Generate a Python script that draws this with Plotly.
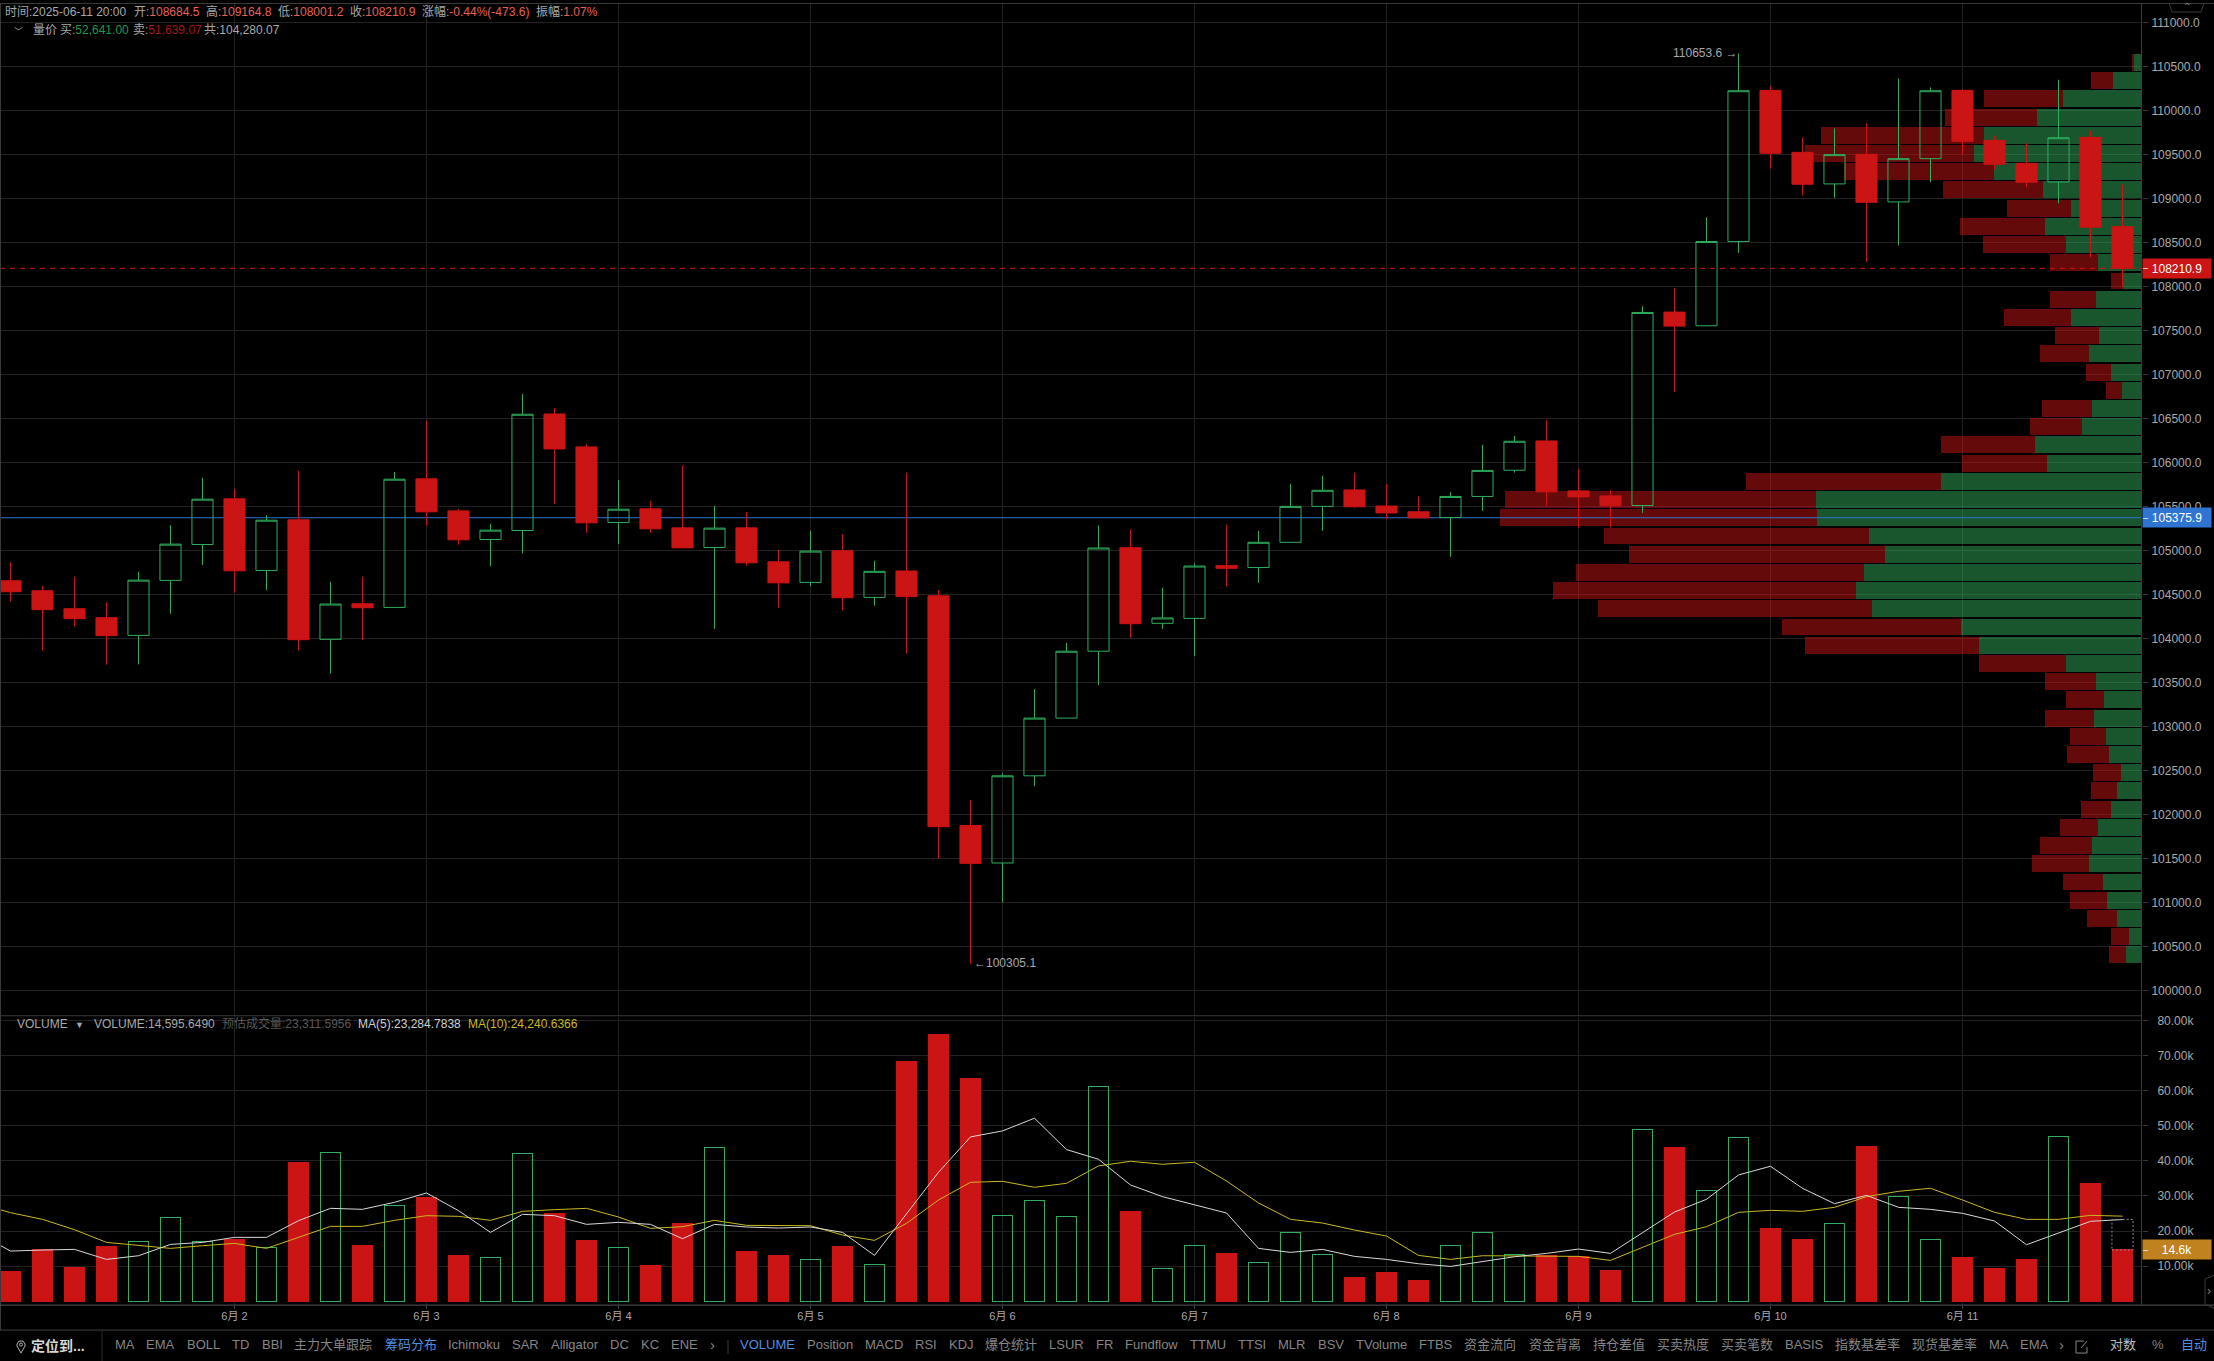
import pandas as pd
import plotly.graph_objects as go

# ---------- data ----------
start_time = "2025-05-31 20:00"
opens = [104660,104546,104342,104240,104039,104664,105072,105591,104777,105352,103994,104399,104357,105818,105454,105129,105231,106555,106181,105322,105477,105261,105038,105261,104875,104641,105001,104471,104771,104489,101878,101452,102443,103099,103859,105036,104176,104232,104832,104810,105097,105505,105692,105509,105444,105379,105618,105916,106249,105681,105624,105515,107713,107558,108515,110233,109529,109170,109506,108965,109457,110233,109665,109404,109192,109699,108684.5]
highs = [104868,104603,104705,104414,104762,105292,105829,105704,105405,105908,104648,104705,105897,106476,105477,105307,106782,106624,106211,105806,105568,105973,105511,105443,105010,105227,105188,104888,105887,104554,102169,102469,103429,103954,105288,105245,104580,104858,105297,105227,105761,105853,105887,105761,105618,105666,106205,106305,106483,105931,105689,107781,107985,108791,110653.6,110282,109699,109801,109858,110369,110267,110248,109718,109631,110354,109779,109164.8]
lows = [104425,103865,104141,103706,103710,104285,104838,104524,104554,103869,103604,103986,104357,105284,105068,104826,104970,105530,105205,105076,105205,105027,104115,104830,104354,104597,104324,104376,103833,101504,100305.1,101005,102325,103099,103476,104011,104115,103802,104597,104636,105097,105227,105488,105357,105366,104932,105453,105889,105511,105261,105265,105431,106805,107558,108386,109344,109041,109011,108280,108470,109189,109503,109332,109132,108950,108337,108001.2]
closes = [104535,104331,104229,104036,104667,105076,105587,104773,105348,103990,104395,104353,105814,105443,105125,105235,106552,106158,105318,105473,105250,105034,105258,104864,104636,104997,104467,104767,104480,101865,101448,102443,103099,103859,105032,104172,104237,104827,104801,105097,105505,105688,105501,105431,105375,105618,105914,106245,105670,105613,105511,107709,107554,108515,110229,109518,109166,109503,108961,109457,110229,109654,109393,109189,109695,108678,108210.9]
volumes = [8572,14667,9714,15715,17048,23905,17048,17715,15334,39429,42477,16000,27334,29429,13143,12476,42191,25143,17429,15334,10286,22286,43906,14286,13143,11905,15715,10476,68287,76002,63430,24477,28762,24191,61335,25715,9334,15905,13715,11048,19619,13334,6857,8286,6000,15905,19619,13334,13143,12857,8857,49048,43715,31619,46762,20857,17715,22191,44001,29905,17619,12572,9429,12000,47048,33429,14595.649]
# moving averages start one bar before the first visible candle
ma5 = [19334,14286,14572,14762,11905,12953,16191,16762,18191,18191,22953,26477,26191,28191,30858,25810,19619,24762,24381,21905,22477,21905,17810,21905,21143,20858,21143,19619,13048,24858,36763,46858,48572,52192,43239,40477,33144,29810,27429,25143,15048,13905,14762,12762,11905,10667,9905,11238,12667,13619,14857,13619,19524,25429,29048,36001,38477,32191,27810,30191,26762,26191,25048,22858,16096,19334,22762,23284.78]
ma10 = [27905,25239,23334,20381,16762,16000,15048,15810,16477,15048,18191,21334,21334,23048,24381,24191,23048,25620,26096,26477,24000,20762,21239,23048,21619,21524,21524,18858,17334,22191,28858,33905,34191,32477,33620,38572,39906,39048,39620,34286,28001,23334,22286,20286,18572,13048,11905,12953,12953,12857,12762,11619,15429,19048,21239,25334,25905,25620,26762,29810,31334,32191,28858,25334,23334,23334,24477,24240.64]
estimated_volume = 23311.5956
# volume profile, lowest price bucket first
profile_low, profile_high = 100305.1, 110653.6
profile_buy = [180,140,280,380,425,580,545,480,345,270,235,360,400,525,415,510,830,1795,1985,2960,3135,3050,2820,2995,3565,3575,2205,1040,1170,655,545,225,345,580,470,775,510,205,480,830,1060,775,1085,1620,1850,1740,1150,865,315,85]
profile_sell = [180,195,320,415,440,625,580,425,320,285,300,460,395,535,415,560,965,1910,1965,3010,3330,3170,2810,2910,3485,3415,2140,935,1035,580,550,165,275,545,490,745,505,140,525,920,935,705,1095,1650,1845,1790,1010,865,240,20]
last_price = 108210.9
poc_price = 105375.9
price_ticks = [100000+500*n for n in range(23)]
volume_ticks = [10000,20000,30000,40000,50000,60000,70000,80000]
volume_tick_labels = ["10.00k","20.00k","30.00k","40.00k","50.00k","60.00k","70.00k","80.00k"]
day_ticks = ["2025-06-02","2025-06-03","2025-06-04","2025-06-05","2025-06-06","2025-06-07","2025-06-08","2025-06-09","2025-06-10","2025-06-11"]
day_labels = ["6月 2","6月 3","6月 4","6月 5","6月 6","6月 7","6月 8","6月 9","6月 10","6月 11"]
tabs_left = ["MA","EMA","BOLL","TD","BBI","主力大单跟踪","筹码分布","Ichimoku","SAR","Alligator","DC","KC","ENE"]
tabs_left_x = [115,146,187,232,262,294,385,448,512,551,610,641,671]
tabs_right = ["VOLUME","Position","MACD","RSI","KDJ","爆仓统计","LSUR","FR","Fundflow","TTMU","TTSI","MLR","BSV","TVolume","FTBS","资金流向","资金背离","持仓差值","买卖热度","买卖笔数","BASIS","指数基差率","现货基差率","MA","EMA"]
tabs_right_x = [740,807,865,915,949,985,1049.5,1096,1125.5,1190,1238,1278.6,1318,1356,1419,1464,1529,1593,1657,1721,1785,1835,1912,1989,2020.5]

# ---------- styling ----------
W, H, PLOT_W = 2214, 1361, 2142
FONT = "Liberation Sans, Noto Sans CJK SC, sans-serif"
RED, GREEN = "#cb1414", "#2fae5e"
GRID = "#212121"
GREY, DIM = "#a8a8a8", "#858585"
PRED, LRED, LGREEN = "#e8604f", "#a51616", "#1f9a4c"
BLUE, ORANGE = "#2f74d0", "#c0821e"
HOUR4 = pd.Timedelta(hours=4)

dates = pd.date_range(start_time, periods=len(opens), freq="4h")
ma_dates = pd.date_range(dates[0] - HOUR4, periods=len(ma5), freq="4h")
step = (profile_high - profile_low) / len(profile_buy)
profile_prices = [profile_low + (k + 0.5) * step for k in range(len(profile_buy))]
x_range = [dates[0] - HOUR4 * (10.5 / 32), dates[0] + HOUR4 * ((PLOT_W - 10.5) / 32)]
bar_ms = 4 * 3600 * 1000 * 0.65
px = lambda v: v / PLOT_W
py = lambda v: 1 - v / H
up = [c >= o for o, c in zip(opens, closes)]

fig = go.Figure()
# profile (base subplot, so the candles sit above it)
fig.add_bar(y=profile_prices, x=profile_buy, orientation="h", width=step * 0.93, xaxis="x", yaxis="y",
            marker=dict(color="rgba(50,170,90,0.5)", line_width=0), hoverinfo="skip", showlegend=False)
fig.add_bar(y=profile_prices, x=profile_sell, orientation="h", width=step * 0.93, xaxis="x", yaxis="y",
            marker=dict(color="rgba(200,20,20,0.5)", line_width=0), hoverinfo="skip", showlegend=False)
fig.add_scatter(x=[23519, 0], y=[poc_price, poc_price], xaxis="x", yaxis="y", mode="lines",
                line=dict(color=BLUE, width=1), hoverinfo="skip", showlegend=False)
fig.add_scatter(x=[23519, 0], y=[last_price, last_price], xaxis="x", yaxis="y", mode="lines",
                line=dict(color=RED, width=1, dash="5px,5px"), hoverinfo="skip", showlegend=False)
fig.add_candlestick(x=dates, open=opens, high=highs, low=lows, close=closes, xaxis="x2", yaxis="y",
                    increasing=dict(line=dict(color=GREEN, width=1), fillcolor="rgba(0,0,0,0)"),
                    decreasing=dict(line=dict(color=RED, width=1), fillcolor=RED),
                    whiskerwidth=0, hoverinfo="skip", showlegend=False)
# volume
fig.add_bar(x=dates, y=volumes, width=bar_ms, xaxis="x3", yaxis="y2", hoverinfo="skip", showlegend=False,
            marker=dict(color=["rgba(0,0,0,0)" if u else RED for u in up],
                        line=dict(color=[GREEN if u else RED for u in up], width=1)))
fig.add_scatter(x=ma_dates, y=ma10, xaxis="x3", yaxis="y2", mode="lines", line=dict(color="#c9b820", width=1),
                hoverinfo="skip", showlegend=False)
fig.add_scatter(x=ma_dates, y=ma5, xaxis="x3", yaxis="y2", mode="lines", line=dict(color="#d8d8d8", width=1),
                hoverinfo="skip", showlegend=False)

ann = []
def text(x, y, s, color=GREY, size=12, anchor="left", **kw):
    ann.append(dict(xref="paper", yref="paper", x=px(x - 1.2), y=py(y - 1.2), text=s, showarrow=False, xanchor=anchor,
                    yanchor="middle", font=dict(color=color, size=size, family=FONT), borderpad=0, **kw))
def span(s, c):
    return f'<span style="color:{c}">{s}</span>'

for x, lab, val in [(5, "时间:", None), (134, "开:", "108684.5"), (206, "高:", "109164.8"), (278, "低:", "108001.2"),
                    (350, "收:", "108210.9"), (422, "涨幅:", "-0.44%(-473.6)"), (536, "振幅:", "1.07%")]:
    text(x, 10, lab + (span(val, PRED) if val else "2025-06-11 20:00"))
text(14, 30, "﹀", size=9)
text(33, 28, "量价")
text(60, 28, "买:" + span("52,641.00", LGREEN))
text(133, 28, "卖:" + span("51,639.07", LRED))
text(204, 28, "共:104,280.07")
text(1673, 51, "110653.6 →")
text(974, 963, "←100305.1")
text(17, 1024, "VOLUME")
text(75, 1025, "▼", size=9)
text(94, 1024, "VOLUME:14,595.6490")
text(222, 1024, "预估成交量:23,311.5956", color="#585858")
text(358, 1024, "MA(5):23,284.7838", color="#cfcfcf")
text(468, 1024, "MA(10):24,240.6366", color="#c9b820")
text(31, 1347, "<b>定位到...</b>", color="#d8d8d8", size=14)
for lab, x in zip(tabs_left, tabs_left_x):
    text(x, 1346, lab, color="#4f8fe0" if lab == "筹码分布" else DIM, size=13)
text(710, 1346, "›", color=DIM, size=15)
for lab, x in zip(tabs_right, tabs_right_x):
    text(x, 1346, lab, color="#4f8fe0" if lab == "VOLUME" else DIM, size=13)
text(2059, 1346, "›", color=DIM, size=15)
text(2110.6, 1346, "对数", color="#bdbdbd", size=13)
text(2152, 1346, "%", color=DIM, size=13)
text(2181, 1346, "自动", color="#4f8fe0", size=13)
text(2183, 5, "⌃", color=DIM, size=10)
text(2207, 1292, "›", color=DIM, size=12)

# price and volume tags
for yref, val, label, color in [("y", last_price, "108210.9", RED), ("y", poc_price, "105375.9", BLUE),
                                ("y2", volumes[-1], "14.6k", ORANGE)]:
    ann.append(dict(xref="paper", yref=yref, x=1, y=val, text=label, showarrow=False, xanchor="left",
                    yanchor="middle", width=68, height=19, bgcolor=color, align="center", borderpad=0,
                    font=dict(color="white", size=12, family=FONT)))
    ann.append(dict(xref="paper", yref=yref, x=1, y=val, text="–", showarrow=False, xanchor="left",
                    yanchor="middle", font=dict(color="white", size=9, family=FONT), borderpad=0))

def rule(x0, y0, x1, y1, color):
    return dict(type="line", xref="paper", yref="paper", x0=px(x0), y0=py(y0), x1=px(x1), y1=py(y1),
                line=dict(color=color, width=1), layer="above")
shapes = [rule(0, 0.5, 2214, 0.5, "#3a3a3a"), rule(0.5, 0, 0.5, 1330, "#3a3a3a"),
          rule(0, 1015, 2142, 1015, "#3a3a3a"), rule(0, 1305, 2214, 1305, "#55555c"),
          rule(0, 1330, 2214, 1330, "#3f3f3f"), rule(2141.5, 0, 2141.5, 1305, "#3a3a3a"),
          rule(102, 1331, 102, 1361, "#2c2c2c"), rule(728, 1340, 728, 1354, "#3a3a3a"),
          dict(type="path", xref="paper", yref="paper", layer="above", line=dict(color="#3a3a3a", width=1),
               path=f"M {px(2169)} {py(0)} L {px(2172)} {py(9)} L {px(2201)} {py(9)} L {px(2204)} {py(0)}"),
          dict(type="path", xref="paper", yref="paper", layer="above", line=dict(color="#3a3a3a", width=1),
               path=f"M {px(2214)} {py(1275)} L {px(2205)} {py(1279)} L {px(2205)} {py(1304)} L {px(2214)} {py(1308)}"),
          dict(type="path", xref="paper", yref="paper", layer="above", line=dict(color="#b5b5b5", width=1),
               path=f"M {px(21)} {py(1353)} L {px(17)} {py(1346)} L {px(17)} {py(1344)} L {px(19)} {py(1341)} L {px(23)} {py(1341)} L {px(25)} {py(1344)} L {px(25)} {py(1346)} Z"),
          dict(type="circle", xref="paper", yref="paper", layer="above", line=dict(color="#b5b5b5", width=1),
               x0=px(19.5), x1=px(22.5), y0=py(1343), y1=py(1346)),
          dict(type="path", xref="paper", yref="paper", layer="above", line=dict(color=DIM, width=1),
               path=f"M {px(2084)} {py(1341)} L {px(2076)} {py(1341)} L {px(2076)} {py(1353)} L {px(2087)} {py(1353)} L {px(2087)} {py(1347)} M {px(2081)} {py(1348)} L {px(2087)} {py(1341)}"),
          dict(type="rect", xref="x3", yref="y2", layer="above", x0=dates[-1] - HOUR4 * 0.33, x1=dates[-1] + HOUR4 * 0.33,
               y0=volumes[-1], y1=estimated_volume, line=dict(color="#8a8a8a", width=1, dash="2px,2px"))]

axis_font = dict(color=GREY, size=12, family=FONT)
fig.update_layout(
    width=W, height=H, margin=dict(l=0, r=W - PLOT_W, t=0, b=0, pad=0), autosize=False,
    paper_bgcolor="#000000", plot_bgcolor="#000000", barmode="stack", boxgap=0.34, boxgroupgap=0, boxmode="overlay",
    showlegend=False, annotations=ann, shapes=shapes, hovermode=False, dragmode=False,
    font=dict(family=FONT),
    xaxis=dict(domain=[0, 1], range=[23519, 0], visible=False, anchor="y", showgrid=False, zeroline=False),
    xaxis2=dict(domain=[0, 1], overlaying="x", anchor="y", type="date", range=x_range, tickvals=day_ticks,
                showticklabels=False, ticks="", showgrid=True, gridcolor=GRID, gridwidth=1, zeroline=False,
                rangeslider=dict(visible=False)),
    xaxis3=dict(domain=[0, 1], anchor="y2", type="date", range=x_range, tickvals=day_ticks, ticktext=day_labels,
                showgrid=True, gridcolor=GRID, ticks="outside", ticklen=3, tickcolor="#444444", tickangle=0,
                tickfont=dict(color=GREY, size=11, family=FONT), ticklabelstandoff=-2, zeroline=False,
                rangeslider=dict(visible=False)),
    yaxis=dict(domain=[py(1015), py(0)], range=[99716, 111226], side="right", anchor="x", tickvals=price_ticks,
               tickformat=".1f", showgrid=True, gridcolor=GRID, ticks="outside", ticklen=5, tickcolor="#3a3a3a",
               tickfont=axis_font, ticklabelstandoff=1, zeroline=False),
    yaxis2=dict(domain=[py(1305), py(1016)], range=[-1143, 81143], side="right", anchor="x3", tickvals=volume_ticks,
                ticktext=volume_tick_labels, showgrid=True, gridcolor=GRID, ticks="outside", ticklen=5,
                tickcolor="#3a3a3a", tickfont=axis_font, ticklabelstandoff=7, zeroline=False),
)
fig.write_html("out.html", config=dict(displayModeBar=False),
               post_script="document.body.style.margin='0';document.body.style.background='#000';document.body.style.overflow='hidden';")
